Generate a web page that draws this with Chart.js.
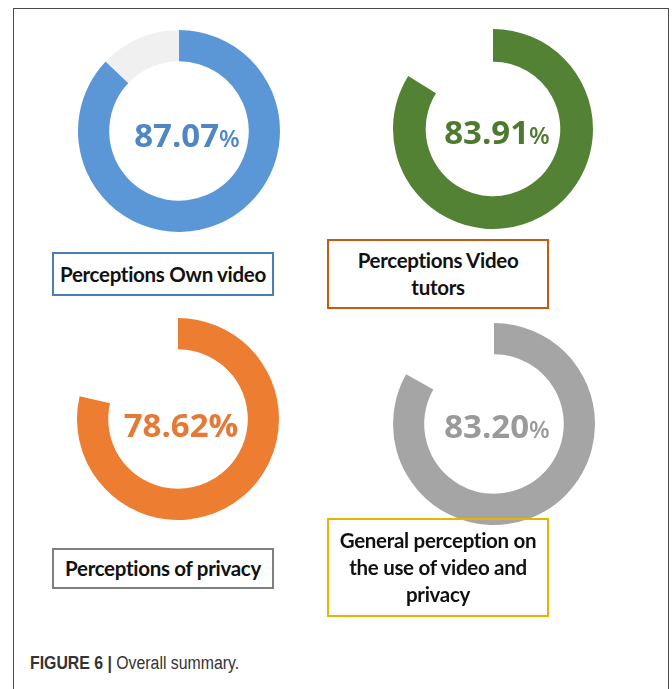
<!DOCTYPE html>
<html>
<head>
<meta charset="utf-8">
<script src="https://cdn.jsdelivr.net/npm/chart.js@4"></script>
<style>
  html, body { margin: 0; padding: 0; background: #fff; }
  body { width: 672px; height: 689px; position: relative; overflow: hidden; }
  #frame { position: absolute; left: 13px; top: 8px; width: 656px; height: 700px;
           border: 1px solid #4a4a4a; border-bottom: none; box-sizing: border-box; }
  .donut { position: absolute; width: 220px; height: 220px; }
  .num { position: absolute; font-family: "Open Sans", sans-serif; font-weight: 700;
         font-size: 33px; line-height: 1; white-space: nowrap; transform: translate(-50%, -50%); }
  .num .pct { font-size: 24px; font-weight: 600; }
  .box { position: absolute; box-sizing: border-box; border: 2px solid; display: flex;
         flex-direction: column; justify-content: center; align-items: center;
         font-family: "Lato", sans-serif; font-weight: 700; font-size: 20.5px; color: #111;
         letter-spacing: -0.3px; line-height: 27px; text-align: center; }
  #caption { position: absolute; left: 30px; top: 653px; font-family: "Liberation Sans", Arial, sans-serif;
             font-size: 18px; color: #333; white-space: nowrap; transform: scaleX(0.88); transform-origin: 0 0; }
  #caption b { font-weight: 700; }
</style>
</head>
<body>
<div id="frame"></div>
<div id="caption"><b>FIGURE 6 |</b> Overall summary.</div>
<script>
// ---- data ----
const categories = [
  ['Perceptions Own video'],
  ['Perceptions Video', 'tutors'],
  ['Perceptions of privacy'],
  ['General perception on', 'the use of video and', 'privacy']
];
const values = [87.07, 83.91, 78.62, 83.20];
const valueLabels = ['87.07', '83.91', '78.62', '83.20'];

// ---- presentation ----
const layout = [
  { cx: 179, cy: 131, r: 101, w: 25, color: '#5b96d6', rest: '#f0f0f0', text: '#4f86c6', tx: 187, ty: 134, smallPct: true,
    box: { l: 52, t: 252, w: 222, h: 44, c: '#4a7ebb' } },
  { cx: 493, cy: 129, r: 100, w: 26, color: '#548235', rest: 'rgba(255,255,255,0)', text: '#4e7a30', tx: 497, ty: 131, smallPct: true,
    box: { l: 327, t: 239, w: 222, h: 70, c: '#c55a11' } },
  { cx: 178, cy: 419, r: 101, w: 25, color: '#ed7d31', rest: 'rgba(255,255,255,0)', text: '#e47a36', tx: 181, ty: 424, smallPct: false,
    box: { l: 52, t: 548, w: 222, h: 41, c: '#7f7f7f' } },
  { cx: 494, cy: 424, r: 101, w: 25, color: '#a5a5a5', rest: 'rgba(255,255,255,0)', text: '#9a9a9a', tx: 497, ty: 425, smallPct: true,
    box: { l: 327, t: 518, w: 222, h: 99, c: '#e8b400' } }
];

values.forEach((v, i) => {
  const L = layout[i];
  const wrap = document.createElement('div');
  wrap.className = 'donut';
  wrap.style.left = (L.cx - 110) + 'px';
  wrap.style.top = (L.cy - 110) + 'px';
  const cv = document.createElement('canvas');
  cv.width = 220; cv.height = 220;
  wrap.appendChild(cv);
  document.body.appendChild(wrap);

  new Chart(cv, {
    type: 'doughnut',
    data: {
      labels: [categories[i].join(' '), 'Rest'],
      datasets: [{
        data: [v, 100 - v],
        backgroundColor: [L.color, L.rest],
        borderWidth: 0,
        hoverOffset: 0,
        radius: L.r,
        cutout: (L.r - L.w)
      }]
    },
    options: {
      responsive: false,
      animation: false,
      events: [],
      layout: { padding: 0 },
      plugins: { legend: { display: false }, tooltip: { enabled: false } }
    }
  });

  const num = document.createElement('div');
  num.className = 'num';
  num.style.left = L.tx + 'px';
  num.style.top = L.ty + 'px';
  num.style.color = L.text;
  num.innerHTML = valueLabels[i] + (L.smallPct ? '<span class="pct">%</span>' : '%');
  document.body.appendChild(num);

  const box = document.createElement('div');
  box.className = 'box';
  box.style.left = L.box.l + 'px';
  box.style.top = L.box.t + 'px';
  box.style.width = L.box.w + 'px';
  box.style.height = L.box.h + 'px';
  box.style.borderColor = L.box.c;
  categories[i].forEach(line => {
    const s = document.createElement('div');
    s.textContent = line;
    box.appendChild(s);
  });
  document.body.appendChild(box);
});
</script>
</body>
</html>
